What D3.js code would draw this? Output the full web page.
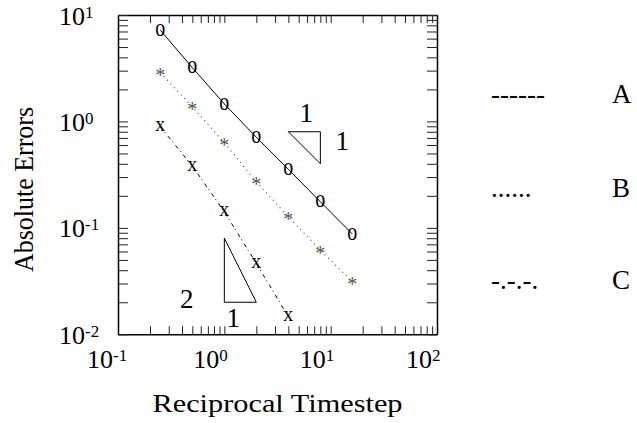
<!DOCTYPE html>
<html>
<head>
<meta charset="utf-8">
<script src="https://cdn.jsdelivr.net/npm/d3@7"></script>
<style>
  body { margin: 0; background: #fff; }
  text { font-family: "Liberation Serif", "Times New Roman", serif; fill: #000; }
</style>
</head>
<body>
<div id="chart"></div>
<script>
// Data
const steps = [0.25, 0.5, 1, 2, 4, 8, 16];
const errorsA = [7.2, 3.2, 1.46, 0.71, 0.355, 0.176, 0.0875];
const errorsB = [2.87, 1.37, 0.63, 0.271, 0.127, 0.0618, 0.0311];
const errorsC = [0.89, 0.381, 0.1416, 0.0464, 0.0146];
const xTickValues = [0.1, 1, 10, 100];
const xTickExps = ["-1", "0", "1", "2"];
const yTickValues = [0.01, 0.1, 1, 10];
const yTickExps = ["-2", "-1", "0", "1"];
const legendNames = ["A", "B", "C"];
const legendKeys = ["------", "......", "-.-.-."];
const slopeOneTri = [[4, 0.8], [8, 0.8], [8, 0.4]];
const slopeTwoTri = [[1, 0.08], [1, 0.02], [2, 0.02]];

const width = 637;
const height = 423;
const plot = { left: 118, right: 437, top: 15, bottom: 334.3 };

const svg = d3.select("#chart")
    .append("svg")
    .attr("width", width)
    .attr("height", height);

// Scales
const x = d3.scaleLog().domain([0.1, 100]).range([plot.left, plot.right]);
const y = d3.scaleLog().domain([0.01, 10]).range([plot.bottom, plot.top]);

// Frame with inward ticks on all four sides
const frameAxes = [
    [d3.axisBottom(x).tickValues(x.ticks()).tickSize(-8), `translate(0,${plot.bottom})`],
    [d3.axisTop(x).tickValues(x.ticks()).tickSize(-8), `translate(0,${plot.top})`],
    [d3.axisLeft(y).tickValues(y.ticks()).tickSize(-10), `translate(${plot.left},0)`],
    [d3.axisRight(y).tickValues(y.ticks()).tickSize(-10), `translate(${plot.right},0)`]
];
frameAxes.forEach(([axis, tr]) => {
    const g = svg.append("g")
        .attr("transform", tr)
        .call(axis.tickSizeOuter(0).tickFormat(""));
    g.select(".domain").attr("stroke", "#000").attr("stroke-width", 1.5);
    g.selectAll(".tick line").attr("stroke", "#222").attr("stroke-width", 1);
});

// Tick labels as 10 with superscript exponent
const xLab = svg.selectAll(".xlab")
    .data(xTickValues)
    .join("text")
    .attr("class", "xlab")
    .attr("x", d => x(d) - 31)
    .attr("y", plot.bottom + 34)
    .attr("font-size", 26);
xLab.append("tspan").text("10");
xLab.append("tspan").attr("font-size", 17).attr("dy", -7).text((d, i) => xTickExps[i]);

const yLab = svg.selectAll(".ylab")
    .data(yTickValues)
    .join("text")
    .attr("class", "ylab")
    .attr("x", plot.left - 59)
    .attr("y", d => y(d) + 9.5)
    .attr("font-size", 26);
yLab.append("tspan").text("10");
yLab.append("tspan").attr("font-size", 17).attr("dy", -7).text((d, i) => yTickExps[i]);

// Axis titles
svg.append("text")
    .attr("x", (plot.left + plot.right) / 2)
    .attr("y", 411.5)
    .attr("text-anchor", "middle")
    .attr("font-size", 25)
    .attr("textLength", 250)
    .attr("lengthAdjust", "spacingAndGlyphs")
    .text("Reciprocal Timestep");

svg.append("text")
    .attr("transform", "translate(33,189.5) rotate(-90)")
    .attr("text-anchor", "middle")
    .attr("font-size", 27)
    .attr("textLength", 165)
    .attr("lengthAdjust", "spacingAndGlyphs")
    .text("Absolute Errors");

// Series lines
const line = d3.line()
    .x(d => x(d[0]))
    .y(d => y(d[1]));

const seriesA = steps.map((s, i) => [s, errorsA[i]]);
const seriesB = steps.map((s, i) => [s, errorsB[i]]);
const seriesC = steps.slice(0, errorsC.length).map((s, i) => [s, errorsC[i]]);

svg.append("path")
    .attr("d", line(seriesA))
    .attr("fill", "none")
    .attr("stroke", "#000")
    .attr("stroke-width", 1);

svg.append("path")
    .attr("d", line(seriesB))
    .attr("fill", "none")
    .attr("stroke", "#444")
    .attr("stroke-width", 1.1)
    .attr("stroke-dasharray", "1,4");

svg.append("path")
    .attr("d", line(seriesC))
    .attr("fill", "none")
    .attr("stroke", "#000")
    .attr("stroke-width", 1)
    .attr("stroke-dasharray", "4,3,1,4");

// Markers drawn as glyphs
svg.selectAll(".mA")
    .data(seriesA)
    .join("text")
    .attr("class", "mA")
    .attr("transform", d => `translate(${x(d[0])},${y(d[1])}) scale(1,1.25)`)
    .attr("y", 4.5)
    .attr("text-anchor", "middle")
    .attr("font-size", 20)
    .text("o");

svg.selectAll(".mB")
    .data(seriesB)
    .join("text")
    .attr("class", "mB")
    .attr("x", d => x(d[0]))
    .attr("y", d => y(d[1]) + 9.5)
    .attr("text-anchor", "middle")
    .attr("font-size", 20)
    .style("fill", "#555")
    .text("*");

svg.selectAll(".mC")
    .data(seriesC)
    .join("text")
    .attr("class", "mC")
    .attr("x", d => x(d[0]))
    .attr("y", d => y(d[1]) + 4.5)
    .attr("text-anchor", "middle")
    .attr("font-size", 20)
    .text("x");

// Slope triangles
const tri = d3.line().x(d => x(d[0])).y(d => y(d[1])).curve(d3.curveLinearClosed);
[slopeOneTri, slopeTwoTri].forEach(t => {
    svg.append("path")
        .attr("d", tri(t))
        .attr("fill", "none")
        .attr("stroke", "#000")
        .attr("stroke-width", 1);
});

const slopeLabels = [
    { text: "1", x: x(Math.sqrt(slopeOneTri[0][0] * slopeOneTri[1][0])) + 2, y: y(slopeOneTri[0][1]) - 10 },
    { text: "1", x: x(slopeOneTri[1][0]) + 22, y: y(slopeOneTri[0][1]) + 18.3 },
    { text: "2", x: x(slopeTwoTri[0][0]) - 37.5, y: y(slopeTwoTri[1][1]) + 6 },
    { text: "1", x: x(slopeTwoTri[0][0]) + 9, y: y(slopeTwoTri[1][1]) + 24.4 }
];
svg.selectAll(".slab")
    .data(slopeLabels)
    .join("text")
    .attr("class", "slab")
    .attr("x", d => d.x)
    .attr("y", d => d.y)
    .attr("text-anchor", "middle")
    .attr("font-size", 27)
    .text(d => d.text);

// Legend (text keys, as in the original)
const legendY = [103, 196.5, 289];
const legend = svg.selectAll(".leg")
    .data(legendNames)
    .join("g")
    .attr("class", "leg");
legend.append("text")
    .attr("x", 491)
    .attr("y", (d, i) => legendY[i])
    .attr("font-size", 27)
    .text((d, i) => legendKeys[i]);
legend.append("text")
    .attr("x", 612)
    .attr("y", (d, i) => legendY[i])
    .attr("font-size", 27)
    .text(d => d);
</script>
</body>
</html>
